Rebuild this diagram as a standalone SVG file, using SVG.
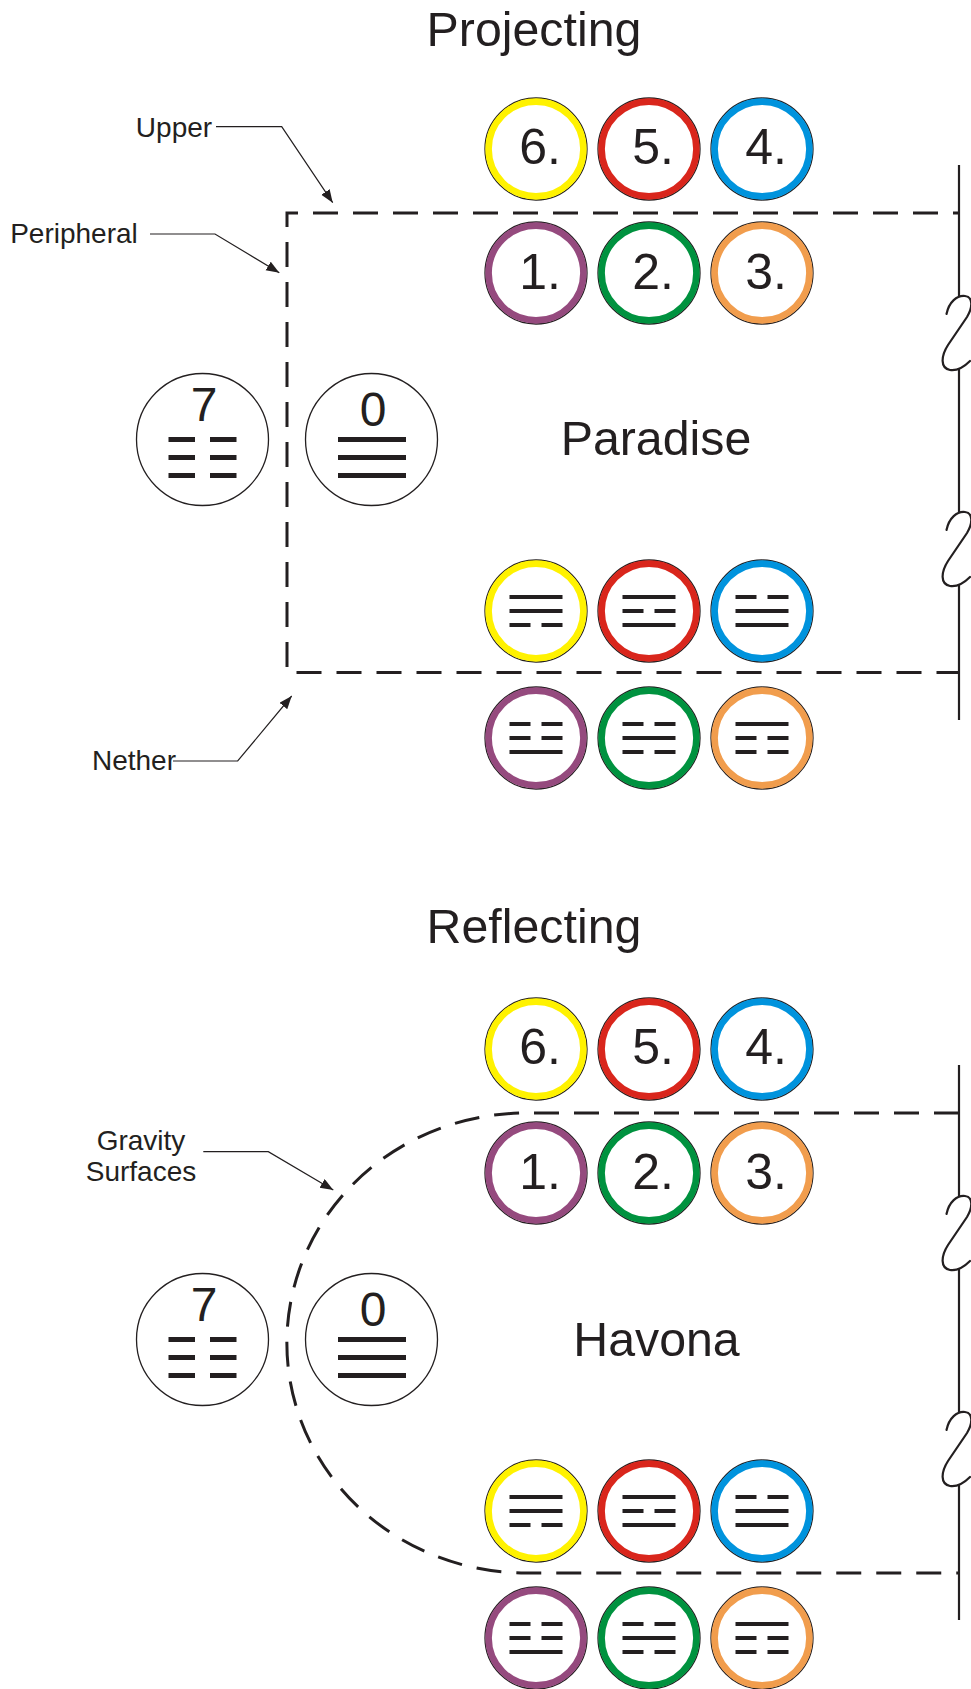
<svg xmlns="http://www.w3.org/2000/svg" xmlns:xlink="http://www.w3.org/1999/xlink" width="971" height="1689" viewBox="0 0 971 1689">
<style>
text{font-family:"Liberation Sans",Arial,sans-serif;fill:#231f20}
.big{font-size:48.3px;text-anchor:middle}
.num{font-size:50px;text-anchor:middle}
.lbl{font-size:28px;text-anchor:middle}
.edge{fill:#fff;stroke:#231f20;stroke-width:1.3}
.ring{fill:none;stroke-width:6.6}
.bar{fill:#231f20}
.dash{fill:none;stroke:#231f20;stroke-width:3;stroke-dasharray:25 15}
.solid{fill:none;stroke:#231f20;stroke-width:2.2}
.lead{fill:none;stroke:#231f20;stroke-width:1.2;marker-end:url(#arr)}
.sq{fill:none;stroke:#231f20;stroke-width:2.2;stroke-linecap:round}
</style>
<defs>
<marker id="arr" markerUnits="userSpaceOnUse" markerWidth="14" markerHeight="12" refX="13" refY="5" orient="auto"><path d="M0,0 L13,5 L0,10 Z" fill="#231f20"/></marker>
<g id="yang"><rect class="bar" x="-26.5" y="-2" width="53" height="4"/></g>
<g id="yin"><rect class="bar" x="-26.5" y="-2" width="21" height="4"/><rect class="bar" x="5.5" y="-2" width="21" height="4"/></g>
<path id="squig" d="M946.5,314 C949,302 957,295 965,296 C973,297 973,307 967,317 L948,345 C941,356 940,368 950,370 C957,371 964,367 970,361"/>
</defs>

<!-- ================= PROJECTING ================= -->
<text class="big" x="534" y="46">Projecting</text>

<g id="connectors-top">
<path class="dash" d="M959,213 H287 V672.5 H959" stroke-dashoffset="19"/>
<path class="solid" d="M959,165 V296 M959,369 V512 M959,585 V720"/>
<use href="#squig" class="sq"/>
<use href="#squig" class="sq" transform="translate(0,216)"/>
<path class="lead" d="M216,126.7 H281.7 L332.7,202.7"/>
<path class="lead" d="M150,234 H215 L279.3,272.7"/>
<path class="lead" d="M173,761 H237.7 L291.7,696"/>
</g>

<g id="labels-top">
<text class="lbl" x="174" y="137">Upper</text>
<text class="lbl" x="74" y="243">Peripheral</text>
<text class="lbl" x="134" y="770">Nether</text>
</g>

<text id="paradise" class="big" x="656" y="455">Paradise</text>

<g id="p-n6"><circle class="edge" cx="536" cy="149" r="51"/><circle class="ring" cx="536" cy="149" r="47.4" stroke="#fff200"/><text class="num" x="540" y="164">6.</text></g>
<g id="p-n5"><circle class="edge" cx="649" cy="149" r="51"/><circle class="ring" cx="649" cy="149" r="47.4" stroke="#d9261c"/><text class="num" x="653" y="164">5.</text></g>
<g id="p-n4"><circle class="edge" cx="762" cy="149" r="51"/><circle class="ring" cx="762" cy="149" r="47.4" stroke="#0093dd"/><text class="num" x="766" y="164">4.</text></g>
<g id="p-n1"><circle class="edge" cx="536" cy="273" r="51"/><circle class="ring" cx="536" cy="273" r="47.4" stroke="#954a7e"/><text class="num" x="540" y="289">1.</text></g>
<g id="p-n2"><circle class="edge" cx="649" cy="273" r="51"/><circle class="ring" cx="649" cy="273" r="47.4" stroke="#00923f"/><text class="num" x="653" y="289">2.</text></g>
<g id="p-n3"><circle class="edge" cx="762" cy="273" r="51"/><circle class="ring" cx="762" cy="273" r="47.4" stroke="#f19d4d"/><text class="num" x="766" y="289">3.</text></g>

<g id="p-n7"><circle class="edge" cx="202.5" cy="439.5" r="66"/><text class="num" x="204" y="421" style="font-size:48px">7</text>
<rect class="bar" x="168.5" y="437" width="26.5" height="5"/><rect class="bar" x="210" y="437" width="26.5" height="5"/>
<rect class="bar" x="168.5" y="455" width="26.5" height="5"/><rect class="bar" x="210" y="455" width="26.5" height="5"/>
<rect class="bar" x="168.5" y="473" width="26.5" height="5"/><rect class="bar" x="210" y="473" width="26.5" height="5"/></g>
<g id="p-n0"><circle class="edge" cx="371.5" cy="439.5" r="66"/><text class="num" x="373" y="425.5" style="font-size:48px">0</text>
<rect class="bar" x="338" y="437" width="68" height="5"/><rect class="bar" x="338" y="455" width="68" height="5"/><rect class="bar" x="338" y="473" width="68" height="5"/></g>

<g id="p-t6"><circle class="edge" cx="536" cy="611" r="51"/><circle class="ring" cx="536" cy="611" r="47.4" stroke="#fff200"/><use href="#yang" x="536" y="597"/><use href="#yang" x="536" y="611"/><use href="#yin" x="536" y="625"/></g>
<g id="p-t5"><circle class="edge" cx="649" cy="611" r="51"/><circle class="ring" cx="649" cy="611" r="47.4" stroke="#d9261c"/><use href="#yang" x="649" y="597"/><use href="#yin" x="649" y="611"/><use href="#yang" x="649" y="625"/></g>
<g id="p-t4"><circle class="edge" cx="762" cy="611" r="51"/><circle class="ring" cx="762" cy="611" r="47.4" stroke="#0093dd"/><use href="#yin" x="762" y="597"/><use href="#yang" x="762" y="611"/><use href="#yang" x="762" y="625"/></g>
<g id="p-t1"><circle class="edge" cx="536" cy="738" r="51"/><circle class="ring" cx="536" cy="738" r="47.4" stroke="#954a7e"/><use href="#yin" x="536" y="724"/><use href="#yin" x="536" y="738"/><use href="#yang" x="536" y="752"/></g>
<g id="p-t2"><circle class="edge" cx="649" cy="738" r="51"/><circle class="ring" cx="649" cy="738" r="47.4" stroke="#00923f"/><use href="#yin" x="649" y="724"/><use href="#yang" x="649" y="738"/><use href="#yin" x="649" y="752"/></g>
<g id="p-t3"><circle class="edge" cx="762" cy="738" r="51"/><circle class="ring" cx="762" cy="738" r="47.4" stroke="#f19d4d"/><use href="#yang" x="762" y="724"/><use href="#yin" x="762" y="738"/><use href="#yin" x="762" y="752"/></g>

<!-- ================= REFLECTING ================= -->
<text class="big" x="534" y="943">Reflecting</text>

<g id="connectors-bottom">
<path class="dash" d="M959,1113 H525.7 A239,230 0 0 0 525.7,1573 H959"/>
<path class="solid" d="M959,1065 V1196 M959,1269 V1412 M959,1485 V1620"/>
<use href="#squig" class="sq" transform="translate(0,900)"/>
<use href="#squig" class="sq" transform="translate(0,1116)"/>
<path class="lead" d="M203.3,1151.7 H268.3 L333.3,1190"/>
</g>

<g id="labels-bottom">
<text class="lbl" x="141" y="1150">Gravity</text>
<text class="lbl" x="141" y="1181">Surfaces</text>
</g>

<text id="havona" class="big" x="656.5" y="1356">Havona</text>

<g id="h-n6"><circle class="edge" cx="536" cy="1049" r="51"/><circle class="ring" cx="536" cy="1049" r="47.4" stroke="#fff200"/><text class="num" x="540" y="1064">6.</text></g>
<g id="h-n5"><circle class="edge" cx="649" cy="1049" r="51"/><circle class="ring" cx="649" cy="1049" r="47.4" stroke="#d9261c"/><text class="num" x="653" y="1064">5.</text></g>
<g id="h-n4"><circle class="edge" cx="762" cy="1049" r="51"/><circle class="ring" cx="762" cy="1049" r="47.4" stroke="#0093dd"/><text class="num" x="766" y="1064">4.</text></g>
<g id="h-n1"><circle class="edge" cx="536" cy="1173" r="51"/><circle class="ring" cx="536" cy="1173" r="47.4" stroke="#954a7e"/><text class="num" x="540" y="1189">1.</text></g>
<g id="h-n2"><circle class="edge" cx="649" cy="1173" r="51"/><circle class="ring" cx="649" cy="1173" r="47.4" stroke="#00923f"/><text class="num" x="653" y="1189">2.</text></g>
<g id="h-n3"><circle class="edge" cx="762" cy="1173" r="51"/><circle class="ring" cx="762" cy="1173" r="47.4" stroke="#f19d4d"/><text class="num" x="766" y="1189">3.</text></g>

<g id="h-n7"><circle class="edge" cx="202.5" cy="1339.5" r="66"/><text class="num" x="204" y="1321" style="font-size:48px">7</text>
<rect class="bar" x="168.5" y="1337" width="26.5" height="5"/><rect class="bar" x="210" y="1337" width="26.5" height="5"/>
<rect class="bar" x="168.5" y="1355" width="26.5" height="5"/><rect class="bar" x="210" y="1355" width="26.5" height="5"/>
<rect class="bar" x="168.5" y="1373" width="26.5" height="5"/><rect class="bar" x="210" y="1373" width="26.5" height="5"/></g>
<g id="h-n0"><circle class="edge" cx="371.5" cy="1339.5" r="66"/><text class="num" x="373" y="1325.5" style="font-size:48px">0</text>
<rect class="bar" x="338" y="1337" width="68" height="5"/><rect class="bar" x="338" y="1355" width="68" height="5"/><rect class="bar" x="338" y="1373" width="68" height="5"/></g>

<g id="h-t6"><circle class="edge" cx="536" cy="1511" r="51"/><circle class="ring" cx="536" cy="1511" r="47.4" stroke="#fff200"/><use href="#yang" x="536" y="1497"/><use href="#yang" x="536" y="1511"/><use href="#yin" x="536" y="1525"/></g>
<g id="h-t5"><circle class="edge" cx="649" cy="1511" r="51"/><circle class="ring" cx="649" cy="1511" r="47.4" stroke="#d9261c"/><use href="#yang" x="649" y="1497"/><use href="#yin" x="649" y="1511"/><use href="#yang" x="649" y="1525"/></g>
<g id="h-t4"><circle class="edge" cx="762" cy="1511" r="51"/><circle class="ring" cx="762" cy="1511" r="47.4" stroke="#0093dd"/><use href="#yin" x="762" y="1497"/><use href="#yang" x="762" y="1511"/><use href="#yang" x="762" y="1525"/></g>
<g id="h-t1"><circle class="edge" cx="536" cy="1638" r="51"/><circle class="ring" cx="536" cy="1638" r="47.4" stroke="#954a7e"/><use href="#yin" x="536" y="1624"/><use href="#yin" x="536" y="1638"/><use href="#yang" x="536" y="1652"/></g>
<g id="h-t2"><circle class="edge" cx="649" cy="1638" r="51"/><circle class="ring" cx="649" cy="1638" r="47.4" stroke="#00923f"/><use href="#yin" x="649" y="1624"/><use href="#yang" x="649" y="1638"/><use href="#yin" x="649" y="1652"/></g>
<g id="h-t3"><circle class="edge" cx="762" cy="1638" r="51"/><circle class="ring" cx="762" cy="1638" r="47.4" stroke="#f19d4d"/><use href="#yang" x="762" y="1624"/><use href="#yin" x="762" y="1638"/><use href="#yin" x="762" y="1652"/></g>
</svg>
